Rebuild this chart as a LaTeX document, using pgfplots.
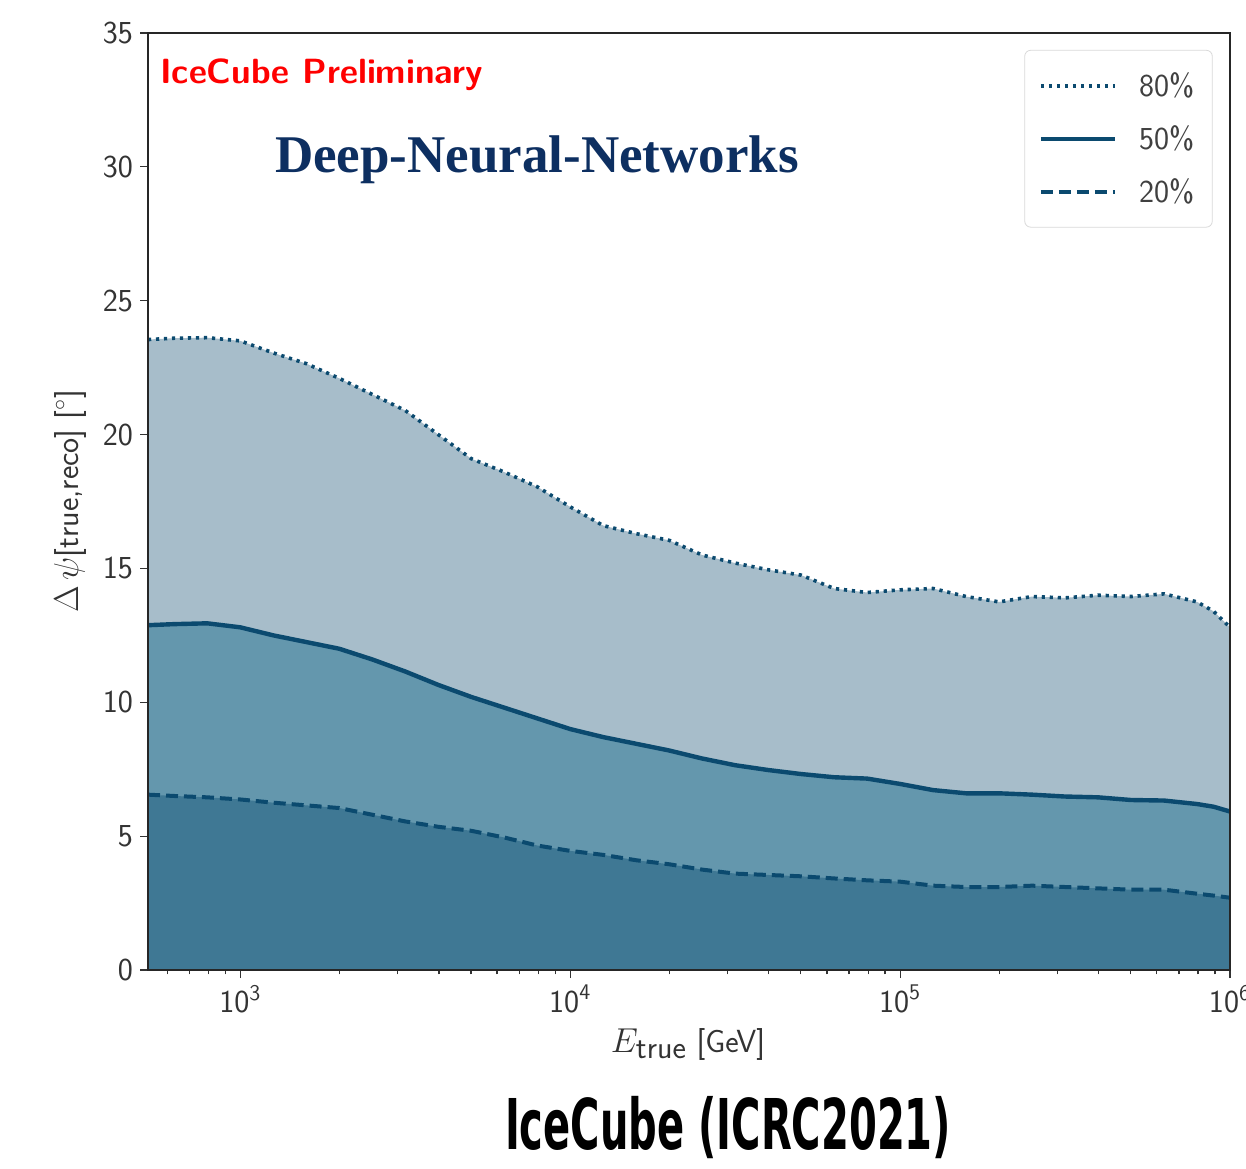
\documentclass[border=0pt]{standalone}
\usepackage{fontspec}
\usepackage{graphicx}
\usepackage{pgfplots}
\pgfplotsset{compat=1.18}
\usepackage{pgfplotstable}
\newfontfamily\titlefont{Liberation Serif}
\newfontfamily\bigfont{DejaVu Sans}
\definecolor{c80}{HTML}{A7BDCA}
\definecolor{c50}{HTML}{6497AD}
\definecolor{c20}{HTML}{3F7894}
\definecolor{lc}{HTML}{0B4A6F}
\definecolor{navy}{HTML}{0D2F61}

\pgfplotstableread{
E p80 p50 p20
525 23.55 12.88 6.55
631 23.60 12.92 6.50
794 23.62 12.95 6.45
1000 23.50 12.80 6.37
1259 23.05 12.50 6.25
1585 22.65 12.25 6.15
1995 22.10 12.00 6.05
2512 21.50 11.60 5.80
3162 20.90 11.15 5.55
3981 20.00 10.65 5.35
5012 19.10 10.20 5.20
6310 18.60 9.80 4.95
7943 18.05 9.40 4.65
10000 17.30 9.00 4.45
12589 16.60 8.70 4.30
15849 16.30 8.45 4.10
19953 16.05 8.20 3.95
25119 15.50 7.90 3.75
31623 15.20 7.65 3.60
39811 14.95 7.47 3.55
50119 14.75 7.32 3.50
63096 14.25 7.20 3.42
79433 14.10 7.15 3.35
100000 14.20 6.95 3.30
125893 14.25 6.72 3.15
158489 13.95 6.60 3.10
199526 13.75 6.60 3.10
251189 13.95 6.55 3.15
316228 13.90 6.48 3.10
398107 14.00 6.45 3.05
501187 13.95 6.35 3.00
630957 14.05 6.33 3.00
794328 13.75 6.20 2.85
891251 13.40 6.10 2.78
1000000 12.80 5.92 2.70
}\datatable

\begin{document}
\begin{tikzpicture}
\begin{axis}[
  at={(0,0)}, anchor=south west,
  width=541pt, height=468.5pt, scale only axis,
  xmode=log, xmin=525, xmax=1e6, ymin=0, ymax=35,
  ytick={0,5,10,15,20,25,30,35},
  xtick={1e3,1e4,1e5,1e6},
  xticklabels={10\textsuperscript{3},10\textsuperscript{4},10\textsuperscript{5},10\textsuperscript{6}},
  minor xtick={600,700,800,900,2000,3000,4000,5000,6000,7000,8000,9000,20000,30000,40000,50000,60000,70000,80000,90000,200000,300000,400000,500000,600000,700000,800000,900000},
  tick align=outside, xtick pos=bottom, ytick pos=left,
  major tick length=4pt, minor tick length=2.2pt,
  tick style={black!80, line width=0.6pt},
  axis line style={black!85, line width=0.8pt},
  axis on top,
  /pgf/number format/assume math mode=true,
  ticklabel style={font=\sffamily\fontsize{16}{16}\selectfont, text=black!80},
  xlabel={$E_{\textsf{true}}$ \textsf{[GeV]}},
  ylabel={$\Delta\,\psi$\textsf{[true,reco] [}$^\circ$\textsf{]}},
  xlabel style={at={(axis description cs:0.499,-0.08)}, anchor=center, font=\fontsize{16}{16}\selectfont, text=black!80},
  ylabel style={at={(axis description cs:-0.072,0.5)}, anchor=center, font=\fontsize{16}{16}\selectfont, text=black!80},
  legend style={at={(0.984,0.982)}, anchor=north east, draw=black!15, rounded corners=3pt, fill=white,
    font=\sffamily\fontsize{16}{16}\selectfont, text=black!75, row sep=9pt, inner xsep=7pt, inner ysep=9pt,
    /tikz/every odd column/.append style={column sep=9pt}},
  legend cell align=left,
  legend image code/.code={\draw[#1] (0pt,0pt) -- (37pt,0pt);},
]
\addplot[draw=none, fill=c80, forget plot] table[x=E,y=p80]{\datatable} \closedcycle;
\addplot[draw=none, fill=c50, forget plot] table[x=E,y=p50]{\datatable} \closedcycle;
\addplot[draw=none, fill=c20, forget plot] table[x=E,y=p20]{\datatable} \closedcycle;
\addplot[lc, line width=1.8pt, dash pattern=on 1.6pt off 2.4pt] table[x=E,y=p80]{\datatable};
\addlegendentry{80\%}
\addplot[lc, line width=2.2pt] table[x=E,y=p50]{\datatable};
\addlegendentry{50\%}
\addplot[lc, line width=2pt, dash pattern=on 6pt off 3pt] table[x=E,y=p20]{\datatable};
\addlegendentry{20\%}
\node[anchor=west, inner sep=0pt, text=red, font=\sffamily\bfseries\fontsize{17.5}{17.5}\selectfont] at (rel axis cs:0.011,0.955) {IceCube Preliminary};
\node[text=navy, font=\titlefont\bfseries\fontsize{26.5}{26.5}\selectfont] at (rel axis cs:0.3595,0.8645) {Deep-Neural-Networks};
\end{axis}
\node at (290pt,-79pt) {\resizebox{223pt}{\height}{\bigfont\bfseries\fontsize{35}{35}\selectfont IceCube (ICRC2021)}};
\pgfresetboundingbox
\useasboundingbox (-74pt,-99pt) rectangle (549pt,485pt);
\end{tikzpicture}
\end{document}
